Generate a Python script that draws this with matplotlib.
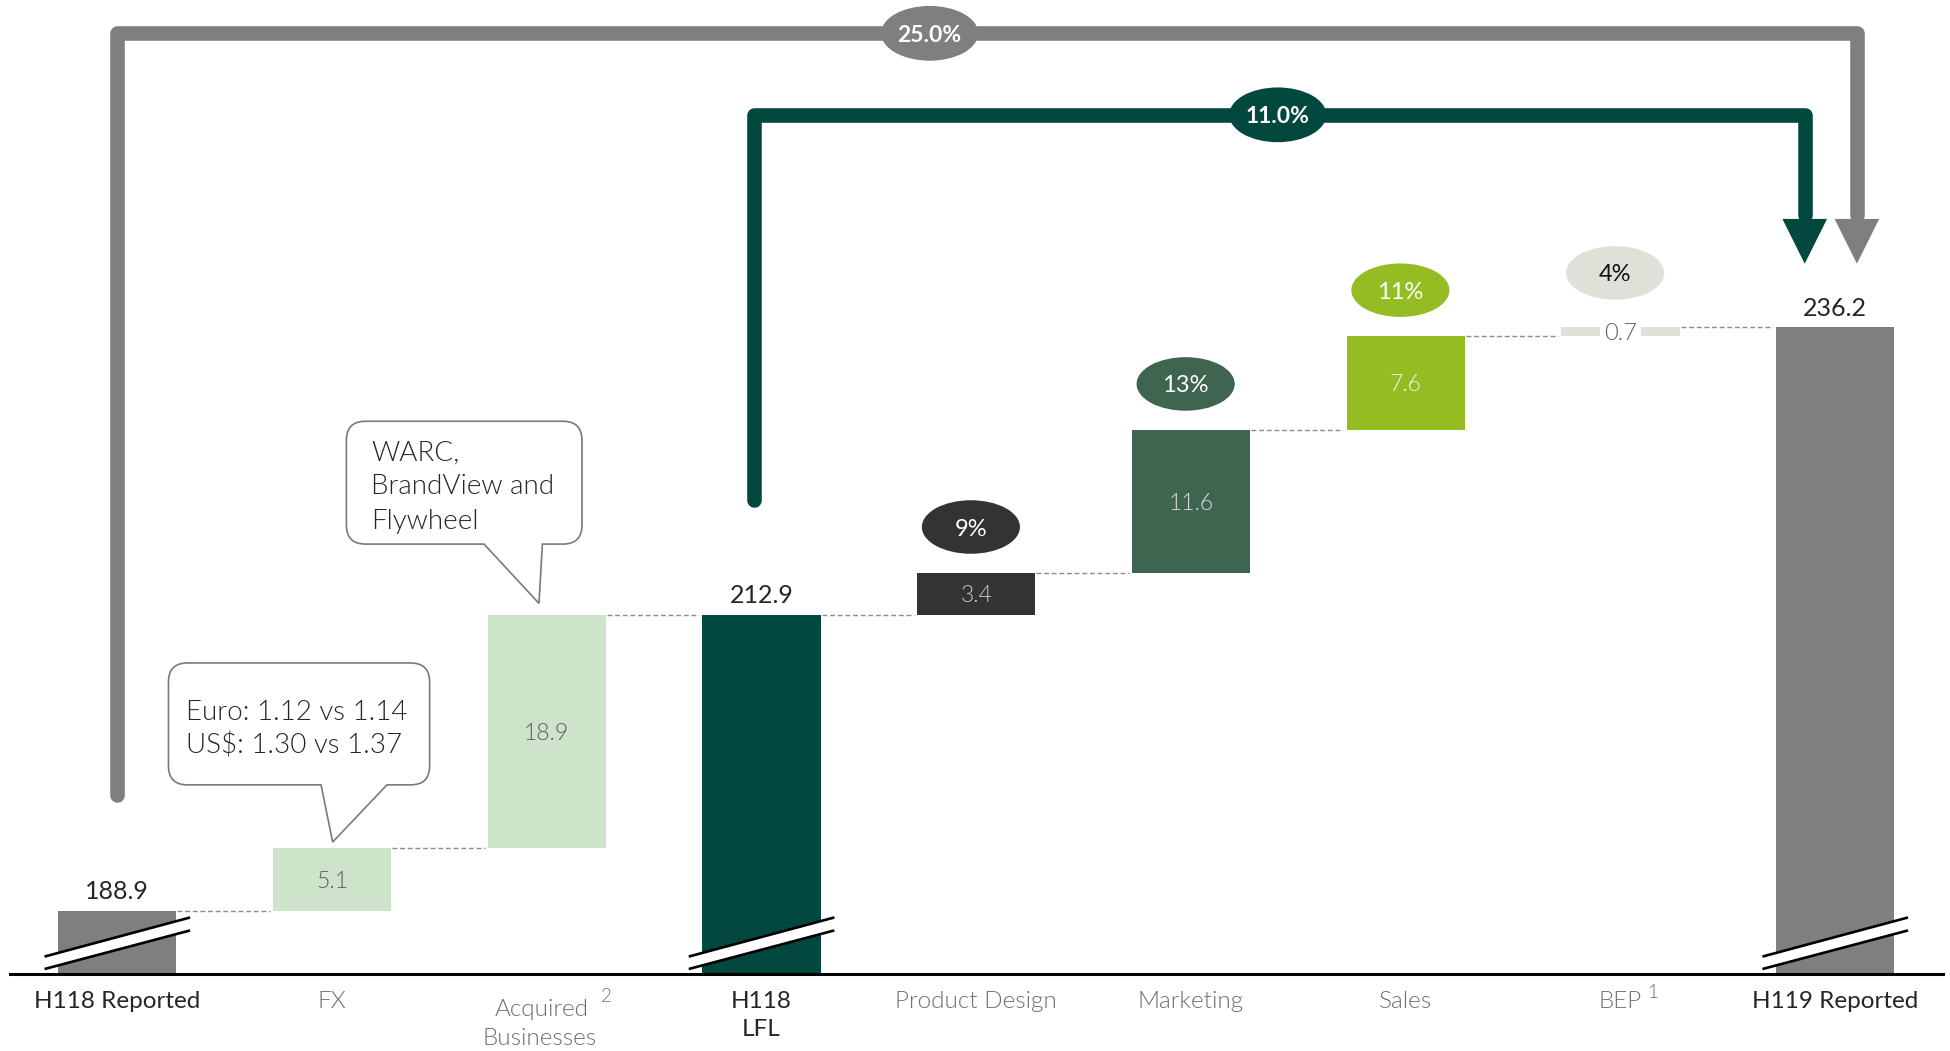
import numpy as np
import matplotlib
matplotlib.use("Agg")
import matplotlib.pyplot as plt
import matplotlib.transforms as mtransforms
from matplotlib.patches import Ellipse, Polygon, PathPatch
from matplotlib.path import Path

plt.rcParams["font.family"] = ["Lato", "DejaVu Sans"]

# ---------------- data ----------------
categories = ["H118 Reported", "FX", "Acquired", "H118", "Product Design",
              "Marketing", "Sales", "BEP", "H119 Reported"]
category_line2 = ["", "", "Businesses", "LFL", "", "", "", "", ""]
footnotes = ["", "", "2", "", "", "", "", "1", ""]

# totals start at the axis floor, steps float on the running level
kinds = ["total", "step", "step", "total", "step", "step", "step", "step", "total"]
values = [188.9, 5.1, 18.9, 212.9, 3.4, 11.6, 7.6, 0.7, 236.2]

# organic growth by driver
growth = ["", "", "", "", "9%", "13%", "11%", "4%", ""]

# bridge growth: reported and like-for-like
bridge_rates = ["25.0%", "11.0%"]

fx_note = ["Euro: 1.12 vs 1.14", "US$: 1.30 vs 1.37"]
acq_note = ["WARC,", "BrandView and", "Flywheel"]

# ---------------- styling ----------------
GRAY = "#7F7F7F"
GREEN = "#02483F"
bar_colors = [GRAY, "#CDE4CB", "#CDE4CB", GREEN, "#333333",
              "#3F6450", "#93BD23", "#E0E0D8", GRAY]
inbar_colors = ["#262626", "#5E5E5E", "#5E5E5E", "#262626", "#C8C8C8",
                "#DADADA", "#F4F4F4", "#5E5E5E", "#262626"]
DARK_TXT = "#262626"
LIGHT_TXT = "#6E6E6E"
LIGHT = 300

AXIS_FLOOR = 183.76
AXIS_TOP = 262.73
BAR_W = 0.55

fig = plt.figure(figsize=(19.5, 10.51), dpi=100)
ax = fig.add_axes([0.0051, 0.0733, 0.9911, 0.9267])
ax.set_xlim(-0.5, 8.5)
ax.set_ylim(AXIS_FLOOR, AXIS_TOP)
for s in ("left", "right", "top"):
    ax.spines[s].set_visible(False)
ax.spines["bottom"].set_linewidth(2.2)
ax.spines["bottom"].set_color("black")
ax.spines["bottom"].set_zorder(6)
ax.set_xticks([])
ax.set_yticks([])

# ---------------- waterfall bars ----------------
x = np.arange(len(values))
bottoms, heights, levels = [], [], []
level = None
for v, k in zip(values, kinds):
    if k == "total":
        bottoms.append(AXIS_FLOOR)
        heights.append(v - AXIS_FLOOR)
        level = v
    else:
        bottoms.append(level)
        heights.append(v)
        level = level + v
    levels.append(level)
tops = [b + h for b, h in zip(bottoms, heights)]

ax.bar(x, heights, bottom=bottoms, width=BAR_W, color=bar_colors,
       linewidth=0, zorder=2)

# dashed connectors between consecutive bars
for i in range(len(values) - 1):
    ax.plot([i + BAR_W / 2 + 0.005, i + 1 - BAR_W / 2 - 0.015],
            [levels[i], levels[i]], color="#8C8C8C", lw=1.0,
            dashes=(3.5, 2), zorder=1)

# value labels
for i, (v, k) in enumerate(zip(values, kinds)):
    if k == "total":
        ax.annotate(f"{v:.1f}", xy=(i, tops[i]), xytext=(0, 8),
                    textcoords="offset points", ha="center", va="baseline",
                    fontsize=18, color=DARK_TXT, zorder=5)
    elif heights[i] < 2:
        ax.text(i, bottoms[i] + heights[i] / 2, f"{v:.1f}", ha="center",
                va="center_baseline", fontsize=17, fontweight=LIGHT,
                color=inbar_colors[i], zorder=5,
                bbox=dict(facecolor="white", edgecolor="none", pad=2.5))
    else:
        ax.text(i, bottoms[i] + heights[i] / 2, f"{v:.1f}", ha="center",
                va="center_baseline", fontsize=16.5, fontweight=LIGHT,
                color=inbar_colors[i], zorder=5)

# axis-break marks on the total bars
for i, k in enumerate(kinds):
    if k != "total":
        continue
    xl, xr = i - 0.339, i + 0.339
    lo = (AXIS_FLOOR + 0.40, AXIS_FLOOR + 3.53)
    hi = (AXIS_FLOOR + 1.41, AXIS_FLOOR + 4.58)
    ax.add_patch(Polygon([[xl, lo[0]], [xr, lo[1]], [xr, hi[1]], [xl, hi[0]]],
                         closed=True, facecolor="white", edgecolor="none",
                         zorder=3))
    ax.plot([xl, xr], lo, color="black", lw=1.9, zorder=4,
            solid_capstyle="butt")
    ax.plot([xl, xr], hi, color="black", lw=1.9, zorder=4,
            solid_capstyle="butt")

# growth bubbles above the drivers
for i, g in enumerate(growth):
    if not g:
        continue
    gap = 3.7 if heights[i] > 2 else 4.4
    cx, cy = i - 0.025, tops[i] + gap
    ax.add_patch(Ellipse((cx, cy), 0.457, 4.34, facecolor=bar_colors[i],
                         edgecolor="none", zorder=3))
    txt_col = "#111111" if bar_colors[i] == "#E0E0D8" else "white"
    ax.text(cx, cy, g, ha="center", va="center_baseline", fontsize=17,
            color=txt_col, zorder=5)

# ---------------- bridge arrows ----------------
LW = 10.5
HEAD_H, HEAD_W = 3.63, 0.208
TIP_Y = 241.35


def bridge(x0, y0, ytop, x1, color, label, label_x):
    ax.plot([x0, x0, x1, x1], [y0, ytop, ytop, TIP_Y + HEAD_H + 0.3],
            color=color, lw=LW, solid_capstyle="round",
            solid_joinstyle="round", zorder=1)
    ax.add_patch(Polygon([[x1 - HEAD_W / 2, TIP_Y + HEAD_H],
                          [x1 + HEAD_W / 2, TIP_Y + HEAD_H],
                          [x1, TIP_Y]], closed=True, facecolor=color,
                         edgecolor="none", zorder=1))
    ax.add_patch(Ellipse((label_x, ytop), 0.452, 4.44, facecolor=color,
                         edgecolor="none", zorder=3))
    ax.text(label_x, ytop, label, ha="center", va="center_baseline",
            fontsize=16.5, fontweight="bold", color="white", zorder=5)


bridge(0.0, 198.24, 260.03, 8.101, GRAY, bridge_rates[0], 3.783)
bridge(2.965, 222.2, 253.42, 7.858, GREEN, bridge_rates[1], 5.404)

# ---------------- callouts ----------------
MOVETO, LINETO, CURVE3, CLOSE = Path.MOVETO, Path.LINETO, Path.CURVE3, Path.CLOSEPOLY


def callout(i, tip, box, tail, lines, text_left, baselines, r=19):
    """Speech bubble anchored at the top centre of bar i; sizes in pixels."""
    l, rt, b, t = box
    tl, tr = tail
    verts = [(l + r, t), (rt - r, t), (rt, t), (rt, t - r), (rt, b + r),
             (rt, b), (rt - r, b), (tr, b), tip, (tl, b), (l + r, b),
             (l, b), (l, b + r), (l, t - r), (l, t), (l + r, t), (l + r, t)]
    codes = [MOVETO, LINETO, CURVE3, CURVE3, LINETO, CURVE3, CURVE3, LINETO,
             LINETO, LINETO, LINETO, CURVE3, CURVE3, LINETO, CURVE3, CURVE3,
             CLOSE]
    trans = fig.dpi_scale_trans + mtransforms.ScaledTranslation(
        i, tops[i], ax.transData)
    patch = PathPatch(Path(np.array(verts) / 100.0, codes), transform=trans,
                      facecolor="white", edgecolor="#7A7A7A", lw=1.2,
                      zorder=4)
    ax.add_artist(patch)
    for line, yb in zip(lines, baselines):
        ax.annotate(line, xy=(i, tops[i]), xytext=(text_left * 0.72, yb * 0.72),
                    textcoords="offset points", ha="left", va="baseline",
                    fontsize=20, fontweight=LIGHT, color=DARK_TXT, zorder=5)


callout(1, (0.6, 5.6), (-163.6, 97.6, 62.8, 184.7), (-11.0, 54.9),
        fx_note, -146.1, [127.4, 94.2])
callout(2, (-7.8, 11.2), (-200.4, 35.2, 70.5, 193.3), (-62.8, -4.4),
        acq_note, -175.4, [153.9, 120.6, 85.6])

# ---------------- category labels ----------------
for i, name in enumerate(categories):
    total = kinds[i] == "total"
    col = DARK_TXT if total else LIGHT_TXT
    wt = "normal" if total else LIGHT
    two = bool(category_line2[i])
    dx = 0.0
    first_off = -24.2
    if two and not total:
        first_off = -30.4
        dx = -0.026
    ax.annotate(name, xy=(i + dx, AXIS_FLOOR), xytext=(0, first_off),
                textcoords="offset points", ha="center", va="baseline",
                fontsize=17.5, fontweight=wt, color=col,
                annotation_clip=False)
    if two:
        second_off = -44.8 if total else -51.0
        dx2 = -0.004 if total else -0.035
        ax.annotate(category_line2[i], xy=(i + dx2, AXIS_FLOOR),
                    xytext=(0, second_off), textcoords="offset points",
                    ha="center", va="baseline", fontsize=17.5, fontweight=wt,
                    color=col, annotation_clip=False)
    if footnotes[i]:
        fn_dx = 0.278 if two else 0.150
        fn_off = -20.5 if two else -17.5
        ax.annotate(footnotes[i], xy=(i + fn_dx, AXIS_FLOOR),
                    xytext=(0, fn_off), textcoords="offset points",
                    ha="center", va="baseline", fontsize=13.5,
                    fontweight=wt, color=col, annotation_clip=False)

fig.savefig("out.png", dpi=100, facecolor="white")
